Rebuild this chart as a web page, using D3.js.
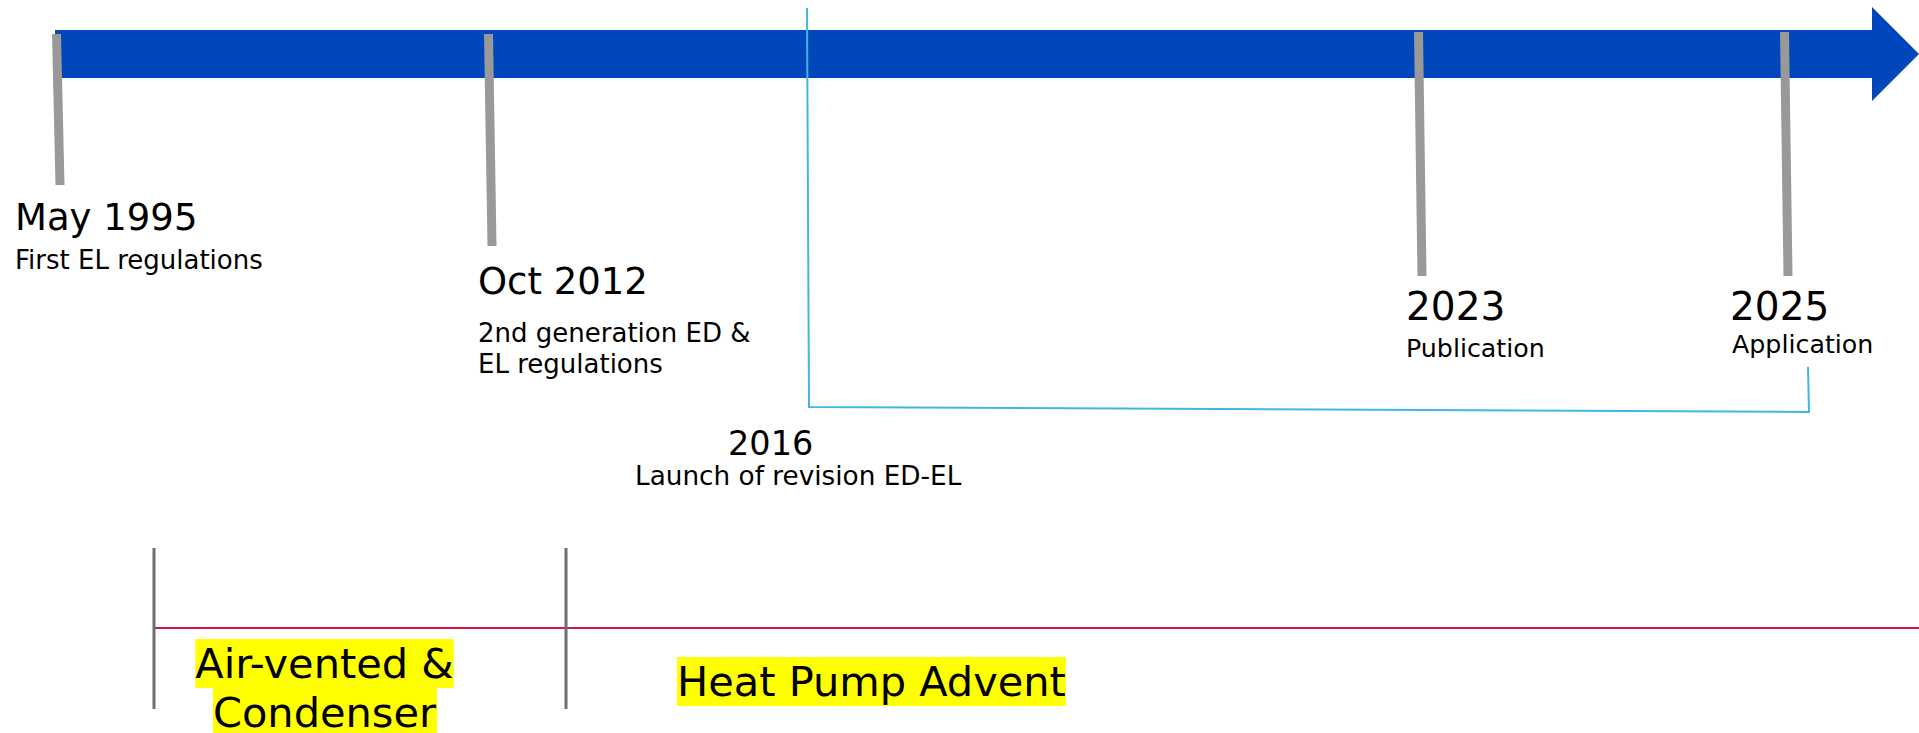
<!DOCTYPE html>
<html>
<head>
<meta charset="utf-8">
<script src="https://cdn.jsdelivr.net/npm/d3@7"></script>
<style>
  html, body { margin: 0; padding: 0; background: #fff; }
  svg { display: block; font-family: Verdana, "DejaVu Sans", sans-serif; }
</style>
</head>
<body>
<div id="chart"></div>
<script>
// milestones on the top arrow
const milestoneDates = [1995.37, 2012.75, 2023, 2025];
const milestoneTitles = ['May 1995', 'Oct 2012', '2023', '2025'];
const milestoneNotes = [
    ['First EL regulations'],
    ['2nd generation ED &', 'EL regulations'],
    ['Publication'],
    ['Application']
];

// revision process, marked by the light blue bracket
const revisionStart = 2016;
const revisionEnd = 2025;
const revisionTitle = '2016';
const revisionNote = 'Launch of revision ED-EL';

// product phases on the bottom line
const phaseLabels = [['Air-vented &', 'Condenser'], ['Heat Pump Advent']];

const width = 1919;
const height = 733;

// the slide is not drawn to scale, so the year scale is piecewise
const years = [...milestoneDates, revisionStart].sort((a, b) => a - b);
const x = d3.scaleLinear()
    .domain(years)
    .range([58, 490, 808, 1420, 1786]);

// layout per milestone (tick length, label offsets)
const tickTop = [34, 34, 32, 32];
const tickBottom = [185, 246, 276, 276];
const titleDx = [-43, -12, -14, -56];
const titleY = [230, 294, 320, 320];
const titleSize = [37, 37, 39, 39];
const noteDx = [-43, -12, -14, -54];
const noteY = [269, 342, 357, 353];
const noteSize = [26, 26, 25.3, 25.3];

const svg = d3.select('#chart').append('svg')
    .attr('width', width)
    .attr('height', height);

// Big blue arrow
const arrow = { x0: 55, x1: 1872, top: 30, bottom: 78, headTop: 7, headBottom: 101 };
const mid = (arrow.top + arrow.bottom) / 2;
svg.append('path')
    .attr('d', d3.line()([
        [arrow.x0, arrow.top], [arrow.x1, arrow.top], [arrow.x1, arrow.headTop],
        [width, mid], [arrow.x1, arrow.headBottom], [arrow.x1, arrow.bottom],
        [arrow.x0, arrow.bottom]
    ]) + 'Z')
    .attr('fill', '#0047bb');

// Light blue bracket for the revision period
const bx0 = x(revisionStart);
const bx1 = x(revisionEnd) + 22;
svg.append('path')
    .attr('d', `M${bx0 - 1},8 L${bx0 + 1},407 L${bx1 + 1},412 M${bx1},367 L${bx1 + 1},413`)
    .attr('fill', 'none')
    .attr('stroke', '#41b6e6')
    .attr('stroke-width', 2);

// Grey milestone ticks
svg.selectAll('.tick')
    .data(milestoneDates)
    .enter().append('line')
        .attr('class', 'tick')
        .attr('x1', d => x(d) - 1.5)
        .attr('x2', d => x(d) + 2)
        .attr('y1', (d, i) => tickTop[i])
        .attr('y2', (d, i) => tickBottom[i])
        .attr('stroke', '#999')
        .attr('stroke-width', 9);

svg.selectAll('.title')
    .data(milestoneTitles)
    .enter().append('text')
        .attr('class', 'title')
        .attr('x', (d, i) => x(milestoneDates[i]) + titleDx[i])
        .attr('y', (d, i) => titleY[i])
        .style('font-size', (d, i) => titleSize[i] + 'px')
        .attr('fill', '#000')
        .text(d => d);

svg.selectAll('.note')
    .data(milestoneNotes)
    .enter().append('text')
        .attr('class', 'note')
        .attr('x', (d, i) => x(milestoneDates[i]) + noteDx[i])
        .attr('y', (d, i) => noteY[i])
        .style('font-size', (d, i) => noteSize[i] + 'px')
        .attr('fill', '#000')
        .each(function(lines, i) {
            d3.select(this).selectAll('tspan')
                .data(lines)
                .enter().append('tspan')
                    .attr('x', x(milestoneDates[i]) + noteDx[i])
                    .attr('dy', (l, j) => j === 0 ? 0 : 31)
                    .text(l => l);
        });

// 2016 launch label
svg.append('text')
    .attr('x', x(revisionStart) - 80)
    .attr('y', 455)
    .style('font-size', '33.5px')
    .text(revisionTitle);
svg.append('text')
    .attr('x', x(revisionStart) - 173)
    .attr('y', 485)
    .style('font-size', '26.3px')
    .text(revisionNote);

// Bottom phase line
const phaseX = d3.scaleLinear().domain([0, 1]).range([154, 566]);
const lineY = 628;

svg.append('line')
    .attr('x1', phaseX(0))
    .attr('x2', width)
    .attr('y1', lineY)
    .attr('y2', lineY)
    .attr('stroke', '#d0174e')
    .attr('stroke-width', 2);

svg.selectAll('.phase-tick')
    .data(phaseLabels)
    .enter().append('line')
        .attr('class', 'phase-tick')
        .attr('x1', (d, i) => phaseX(i))
        .attr('x2', (d, i) => phaseX(i))
        .attr('y1', 548)
        .attr('y2', 709)
        .attr('stroke', '#6e6e6e')
        .attr('stroke-width', 3);

// phase labels with yellow highlight behind each line
const phaseLabelX = [phaseX(0) + 170.5, phaseX(1) + 111];
const phaseAnchor = ['middle', 'start'];
const phaseY = [678, 696];

phaseLabels.forEach((lines, i) => {
    lines.forEach((line, j) => {
        const g = svg.append('g');
        const t = g.append('text')
            .attr('x', phaseLabelX[i])
            .attr('y', phaseY[i] + j * 49)
            .attr('text-anchor', phaseAnchor[i])
            .style('font-size', '41.5px')
            .attr('fill', '#000')
            .text(line);
        const bb = t.node().getBBox();
        g.insert('rect', 'text')
            .attr('x', bb.x)
            .attr('y', bb.y)
            .attr('width', bb.width)
            .attr('height', bb.height)
            .attr('fill', '#ffff00');
    });
});
</script>
</body>
</html>
